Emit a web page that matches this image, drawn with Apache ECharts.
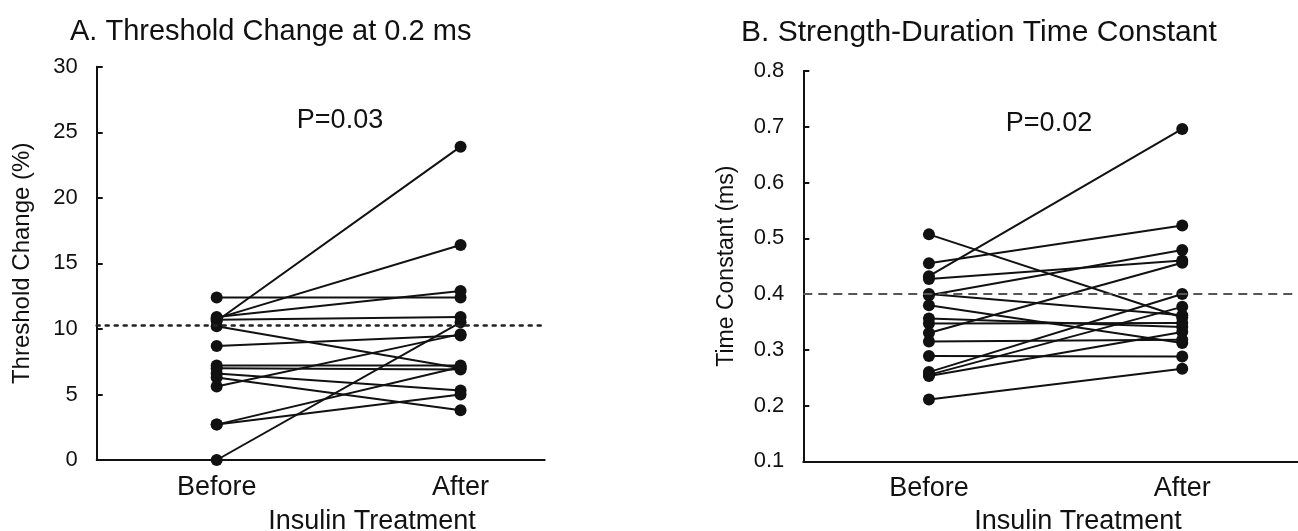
<!DOCTYPE html>
<html>
<head>
<meta charset="utf-8">
<script src="https://cdn.jsdelivr.net/npm/echarts@6/dist/echarts.min.js"></script>
<style>
html,body{margin:0;padding:0;background:#fff;}
#chart{width:1298px;height:531px;}
</style>
</head>
<body>
<div id="chart"></div>
<script>
// ---- Data ----
const categories = ['Before', 'After'];

// Panel A: Threshold change at 0.2 ms (%)
const thresholdBefore = [10.6, 10.8, 12.4, 10.9, 10.7, 10.2, 8.7, 7.2, 7.0, 6.6, 6.3, 5.6, 2.7, 2.7, 0.0];
const thresholdAfter  = [23.9, 16.4, 12.4, 12.9, 10.9, 7.0, 9.5, 7.2, 6.9, 5.3, 3.8, 9.6, 5.0, 7.1, 10.5];
const thresholdRef = 10.3;
const thresholdTicks = [0, 5, 10, 15, 20, 25, 30];

// Panel B: Strength-duration time constant (ms)
const tauBefore = [0.507, 0.455, 0.432, 0.427, 0.398, 0.400, 0.380, 0.356, 0.347, 0.330, 0.315, 0.289, 0.260, 0.255, 0.253, 0.211];
const tauAfter  = [0.358, 0.523, 0.696, 0.460, 0.479, 0.362, 0.312, 0.341, 0.348, 0.456, 0.318, 0.288, 0.400, 0.377, 0.332, 0.266];
const tauRef = 0.40;
const tauTicks = [0.1, 0.2, 0.3, 0.4, 0.5, 0.6, 0.7, 0.8];

const pValues = ['P=0.03', 'P=0.02'];
const titles = ['A. Threshold Change at 0.2 ms', 'B. Strength-Duration Time Constant'];
const yNames = ['Threshold Change (%)', 'Time Constant (ms)'];
const xName = 'Insulin Treatment';

// ---- Chart ----
const FONT = '"Liberation Sans", Arial, Helvetica, sans-serif';
const INK = '#111';

function pairSeries(before, after, idx, refVal, refStyle) {
  return before.map((b, i) => {
    const s = {
      type: 'line',
      xAxisIndex: idx,
      yAxisIndex: idx,
      data: [[0, b], [1, after[i]]],
      symbol: 'circle',
      symbolSize: 12,
      lineStyle: { color: INK, width: 2 },
      itemStyle: { color: INK },
      silent: true,
      animation: false,
      z: 3
    };
    if (i === 0) {
      s.markLine = {
        silent: true,
        symbol: 'none',
        label: { show: false },
        lineStyle: refStyle,
        data: [{ yAxis: refVal }],
        animation: false
      };
    }
    return s;
  });
}

function xAxisCfg(idx, min, max) {
  return {
    type: 'value',
    gridIndex: idx,
    min: min,
    max: max,
    axisLine: { show: true, onZero: false, lineStyle: { color: INK, width: 2 } },
    axisTick: { show: false },
    splitLine: { show: false },
    axisLabel: {
      customValues: [0, 1],
      formatter: v => categories[Math.round(v)] || '',
      fontFamily: FONT,
      fontSize: 27,
      color: INK,
      margin: 14
    }
  };
}

function yAxisCfg(idx, min, max, interval, name, fmt, ticks) {
  return {
    type: 'value',
    gridIndex: idx,
    min: min,
    max: max,
    interval: interval,
    name: name,
    nameLocation: 'middle',
    nameGap: idx === 0 ? 62 : 65,
    nameTextStyle: { fontFamily: FONT, fontSize: idx === 0 ? 24 : 23, color: INK },
    axisLine: { show: true, onZero: false, lineStyle: { color: INK, width: 2 } },
    axisTick: { show: true, inside: true, length: 6, lineStyle: { color: INK, width: 2 } },
    splitLine: { show: false },
    axisLabel: {
      fontFamily: FONT,
      fontSize: 22,
      color: INK,
      margin: 19,
      formatter: v => {
        const t = ticks.find(k => Math.abs(k - v) < 1e-6);
        return t === undefined ? '' : fmt(t);
      }
    }
  };
}

const chart = echarts.init(document.getElementById('chart'), null, { renderer: 'canvas' });

const option = {
  backgroundColor: '#fff',
  animation: false,
  title: [
    { text: titles[0], left: 65, top: 12, textStyle: { fontFamily: FONT, fontSize: 29, fontWeight: 'normal', color: INK } },
    { text: titles[1], left: 736, top: 13, textStyle: { fontFamily: FONT, fontSize: 30, fontWeight: 'normal', color: INK } }
  ],
  grid: [
    { left: 96.7, top: 66.7, width: 448, height: 393.3 },
    { left: 803.3, top: 71, width: 494.7, height: 390.3 }
  ],
  xAxis: [
    xAxisCfg(0, -0.492, 1.345),
    xAxisCfg(1, -0.496, 1.457)
  ],
  yAxis: [
    yAxisCfg(0, 0, 30, 5, yNames[0], v => String(v), thresholdTicks),
    yAxisCfg(1, 0.1, 0.8, 0.1, yNames[1], v => v.toFixed(1), tauTicks)
  ],
  series: [
    ...pairSeries(thresholdBefore, thresholdAfter, 0, thresholdRef,
      { type: [3, 6], color: '#222', width: 2.5, cap: 'round' }),
    ...pairSeries(tauBefore, tauAfter, 1, tauRef,
      { type: [9, 6], color: '#555', width: 2 })
  ],
  graphic: [
    { type: 'text', x: 340, y: 121, style: { text: pValues[0], font: '27px ' + FONT, fill: INK, textAlign: 'center', textVerticalAlign: 'middle' } },
    { type: 'text', x: 1049, y: 124, style: { text: pValues[1], font: '27px ' + FONT, fill: INK, textAlign: 'center', textVerticalAlign: 'middle' } },
    { type: 'text', x: 372, y: 522, style: { text: xName, font: '27px ' + FONT, fill: INK, textAlign: 'center', textVerticalAlign: 'middle' } },
    { type: 'text', x: 1078, y: 522, style: { text: xName, font: '27px ' + FONT, fill: INK, textAlign: 'center', textVerticalAlign: 'middle' } }
  ]
};

chart.setOption(option);
</script>
</body>
</html>
